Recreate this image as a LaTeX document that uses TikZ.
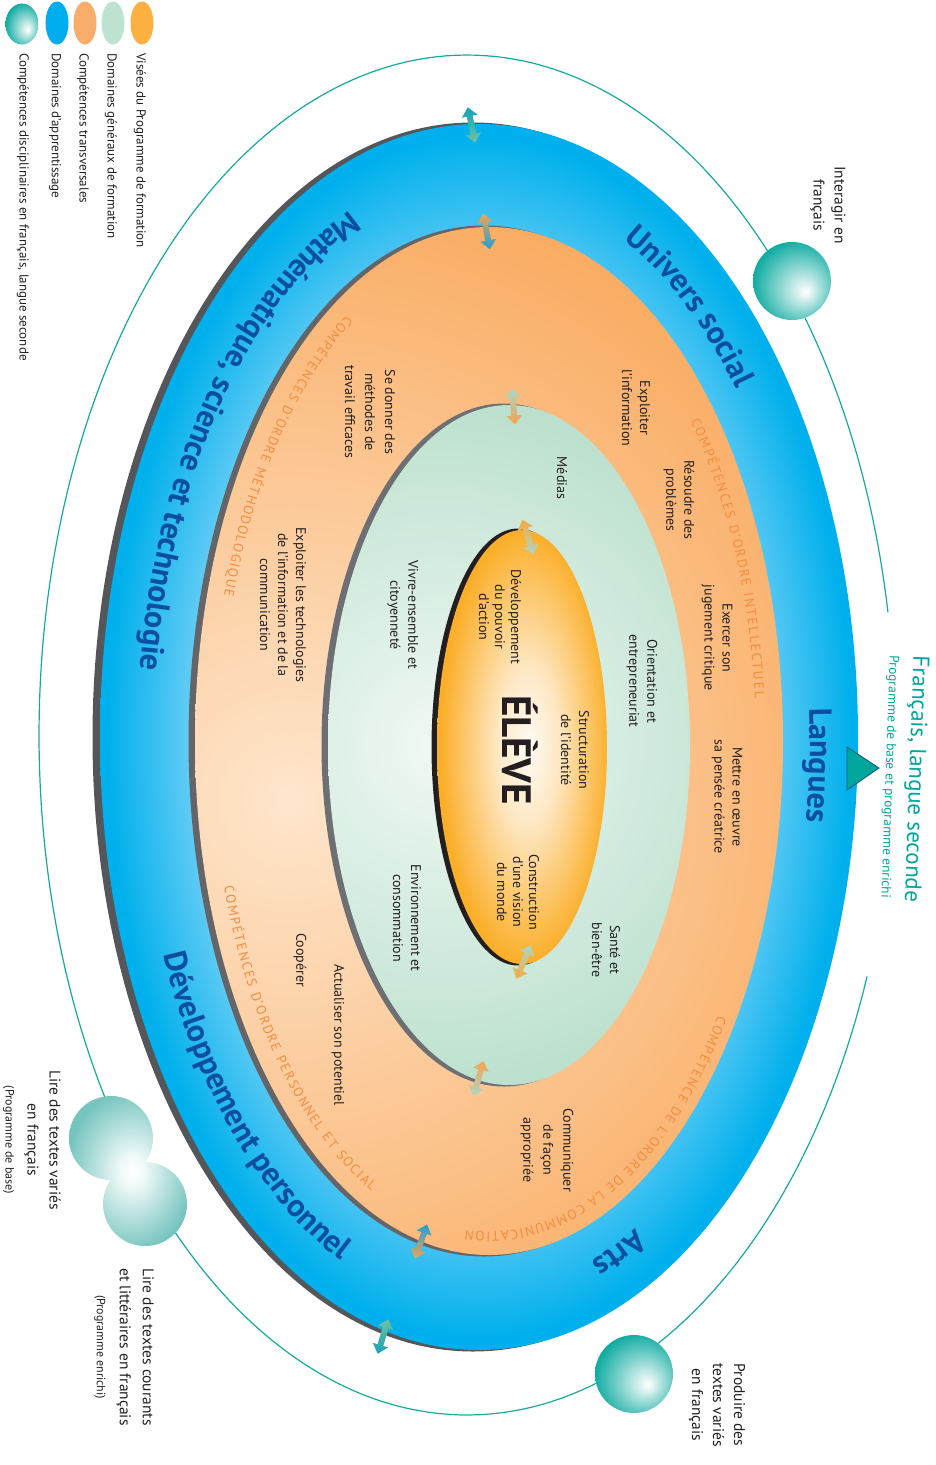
\documentclass[tikz,border=0pt]{standalone}
\usepackage{fontspec}
\setmainfont{PT Sans}
\usetikzlibrary{decorations.text,shadings}

% palette
\definecolor{ink}{RGB}{35,31,32}
\definecolor{headblue}{RGB}{12,78,160}
\definecolor{ordtxt}{RGB}{244,140,62}
\definecolor{orbitc}{RGB}{20,170,160}
\definecolor{tealtxt}{RGB}{0,166,156}
\definecolor{blueL}{RGB}{100,204,245}
\definecolor{blueD}{RGB}{0,176,236}
\definecolor{orgL}{RGB}{254,230,205}
\definecolor{orgD}{RGB}{249,164,84}
\definecolor{grnL}{RGB}{240,249,244}
\definecolor{grnD}{RGB}{183,222,202}
\definecolor{coreW}{RGB}{255,251,244}
\definecolor{coreM}{RGB}{254,232,196}
\definecolor{coreD}{RGB}{251,174,40}
\definecolor{tealD}{RGB}{0,166,156}
\definecolor{tealHi}{RGB}{225,244,242}
\definecolor{tealL}{RGB}{118,196,190}
\definecolor{tealW}{RGB}{240,250,249}
\definecolor{shadowA}{RGB}{85,86,90}
\definecolor{shadowB}{RGB}{100,101,105}
\definecolor{shadowC}{RGB}{110,111,115}
\definecolor{legYellow}{RGB}{251,176,64}
\definecolor{legMint}{RGB}{190,227,209}
\definecolor{legOrange}{RGB}{249,173,106}
\definecolor{legBlue}{RGB}{0,174,239}
\definecolor{arTeal}{RGB}{22,160,185}
\definecolor{arGreen}{RGB}{110,196,165}
\definecolor{arOrange}{RGB}{246,163,79}
\definecolor{arBlue}{RGB}{30,160,215}
\definecolor{arMint}{RGB}{170,216,200}
\definecolor{arGold}{RGB}{247,170,64}
\definecolor{triEdge}{RGB}{16,82,130}

% shadings
\pgfdeclareradialshading{bluefill}{\pgfpoint{0bp}{0bp}}{color(0bp)=(blueL); color(19bp)=(blueL); color(24.5bp)=(blueD); color(50bp)=(blueD)}
\pgfdeclareradialshading{corefill}{\pgfpoint{2bp}{0bp}}{color(0bp)=(coreW); color(9bp)=(coreM); color(25bp)=(coreD); color(50bp)=(coreD)}
\pgfdeclareradialshading{tealball}{\pgfpoint{9bp}{-7bp}}{color(0bp)=(white); color(4bp)=(tealHi); color(31bp)=(tealD); color(50bp)=(tealD)}
\pgfdeclareradialshading{tealtwin}{\pgfpoint{2bp}{0bp}}{color(0bp)=(white); color(5bp)=(tealW); color(27bp)=(tealL); color(50bp)=(tealL)}

% double-headed link arrow between two rings
\newcommand\linkarrow[4]{%
  \begin{scope}[shift={(#1)},rotate=#2]
    \shade[top color=#3,bottom color=#4]
      (0,-18) -- (8,-9) -- (3,-9) -- (3,9) -- (8,9) -- (0,18)
      -- (-8,9) -- (-3,9) -- (-3,-9) -- (-8,-9) -- cycle;
  \end{scope}}

\tikzset{
  lbl/.style={rotate=-90,align=center,text=ink,inner sep=0,font=\fontsize{14}{18}\selectfont},
  outlbl/.style={rotate=-90,align=center,text=ink,inner sep=0,font=\fontsize{15.5}{21}\selectfont},
  legendtxt/.style={rotate=-90,anchor=west,text=ink,inner sep=0,font=\fontsize{13}{15}\selectfont},
  orbitline/.style={draw=orbitc,line width=1.2pt},
  headarc/.style={decorate,decoration={text along path,text align=center,text color=headblue,
      text={|\fontsize{32}{32}\selectfont\bfseries|#1}}},
  ordarc/.style={decorate,decoration={text along path,text align={fit to path},text color=ordtxt,
      text={|\fontsize{13.5}{13.5}\selectfont|#1}}}
}

\begin{document}
\begin{tikzpicture}[x=1pt,y=-1pt]
\useasboundingbox (0,0) rectangle (936,1465);

% outer orbit of the French-language competencies
\draw[orbitline] plot[domain=20.8:349.6,samples=240,variable=\vv] ({467+428*cos(\vv)},{735+680*sin(\vv)});

% learning domains ring
\fill[shadowA] (473,737) ellipse [x radius=380.5,y radius=614.5];
\shade[shading=bluefill] (479,737) ellipse [x radius=379,y radius=613];

% cross-curricular competencies ring
\fill[shadowB] (484,741) ellipse [x radius=295.5,y radius=515.5];
\begin{scope}
  \clip (489,741) ellipse [x radius=294,y radius=514];
  \shade[inner color=orgL,outer color=orgD] (290,800) circle (700);
\end{scope}

% broad areas of learning
\fill[shadowC] (504,745) ellipse [x radius=182.5,y radius=341.5];
\begin{scope}
  \clip (509,745) ellipse [x radius=181,y radius=340];
  \shade[inner color=grnL,outer color=grnD] (440,745) circle (380);
\end{scope}

% aims of the program
\fill[ink] (518,747) ellipse [x radius=86.5,y radius=218.5];
\shade[shading=corefill] (522,747) ellipse [x radius=85,y radius=217];

% link arrows
\linkarrow{471.5,125}{11.6}{arTeal}{arGreen}
\linkarrow{486.5,231.5}{10.7}{arOrange}{arBlue}
\linkarrow{513.5,406.5}{5}{arMint}{arOrange}
\linkarrow{528,537}{18}{arGold}{arMint}
\linkarrow{523.5,962}{-23}{arMint}{arGold}
\linkarrow{478.5,1078.5}{-16}{arOrange}{arMint}
\linkarrow{421,1241.5}{-20}{arBlue}{arOrange}
\linkarrow{383,1336.5}{-17}{arGreen}{arTeal}

% domain names along the blue ring
\path[headarc={Univers social}] plot[domain=0:1,samples=100,variable=\vv] ({484+326*cos(-85+60*\vv)},{739+553*sin(-85+60*\vv)});
\path[headarc={Langues}] plot[domain=0:1,samples=100,variable=\vv] ({484+326*cos(-27+60*\vv)},{739+553*sin(-27+60*\vv)});
\path[headarc={Arts}] plot[domain=0:1,samples=100,variable=\vv] ({484+326*cos(44+50*\vv)},{739+553*sin(44+50*\vv)});
\path[headarc={Mathématique, science et technologie}] plot[domain=0:1,samples=140,variable=\vv] ({484+346*cos(253-70*\vv)},{739+573*sin(253-70*\vv)});
\path[headarc={Développement personnel}] plot[domain=0:1,samples=120,variable=\vv] ({484+346*cos(165-61*\vv)},{739+573*sin(165-61*\vv)});

% competency orders along the orange ring
\path[ordarc={COMPÉTENCES D'ORDRE INTELLECTUEL}] plot[domain=0:1,samples=100,variable=\vv] ({489+267*cos(-41+36*\vv)},{741+487*sin(-41+36*\vv)});
\path[ordarc={COMPÉTENCES D'ORDRE MÉTHODOLOGIQUE}] plot[domain=0:1,samples=100,variable=\vv] ({489+277*cos(239-42*\vv)},{741+497*sin(239-42*\vv)});
\path[ordarc={COMPÉTENCES D'ORDRE PERSONNEL ET SOCIAL}] plot[domain=0:1,samples=100,variable=\vv] ({489+277*cos(163-48*\vv)},{741+497*sin(163-48*\vv)});
\path[ordarc={COMPÉTENCE DE L'ORDRE DE LA COMMUNICATION}] plot[domain=0:1,samples=100,variable=\vv] ({489+276*cos(34+61*\vv)},{741+491*sin(34+61*\vv)});

% competencies and areas
\node[lbl] (exploiterinfo) at (636,408) {Exploiter\\l'information};
\node[lbl] (resoudre) at (679,500) {Résoudre des\\problèmes};
\node[lbl] (jugement) at (717,638) {Exercer son\\jugement critique};
\node[lbl] (creatrice) at (727,797) {Mettre en œuvre\\sa pensée créatrice};
\node[lbl] (orientation) at (642,681) {Orientation et\\entrepreneuriat};
\node[lbl] (identite) at (575,750) {Structuration\\de l'identité};
\node[rotate=-90,inner sep=0,text=ink,font=\fontsize{41}{41}\selectfont\bfseries] (eleve) at (520,750) {ÉLÈVE};
\node[lbl,font=\fontsize{14}{16}\selectfont] (pouvoir) at (500,617) {Développement\\du pouvoir\\d'action};
\node[lbl,font=\fontsize{14}{16}\selectfont] (vision) at (518,892) {Construction\\d'une vision\\du monde};
\node[lbl] (sante) at (606,950) {Santé et\\bien-être};
\node[lbl] (environnement) at (407,918) {Environnement et\\consommation};
\node[lbl] (vivre) at (403,615) {Vivre-ensemble et\\citoyenneté};
\node[lbl] (medias) at (562,478) {Médias};
\node[lbl,font=\fontsize{14}{20}\selectfont] (methodes) at (370,412) {Se donner des\\méthodes de\\travail efficaces};
\node[lbl] (tic) at (283,605) {Exploiter les technologies\\de l'information et de la\\communication};
\node[lbl] (cooperer) at (300,960) {Coopérer};
\node[lbl] (potentiel) at (338,1035) {Actualiser son potentiel};
\node[lbl,font=\fontsize{14}{20}\selectfont] (communiquer) at (547,1150) {Communiquer\\de façon\\appropriée};

% French-language competencies on the orbit
\shade[shading=tealball] (792,281) circle (39);
\shade[shading=tealball] (634,1374) circle (39);
\shade[shading=tealtwin] (111,1138) circle (42) (145,1204) circle (42);
\filldraw[fill=tealD,draw=triEdge,line width=0.8pt] (847,747) -- (879,768) -- (847,790) -- cycle;

\node[outlbl] (interagir) at (828,205) {Interagir en\\français};
\node[outlbl] (produire) at (717,1405) {Produire des\\textes variés\\en français};
\node[outlbl,font=\fontsize{15.5}{23}\selectfont] (lirecourants) at (124,1347) {Lire des textes courants\\et littéraires en français\\{\fontsize{12}{14}\selectfont(Programme enrichi)}};
\node[outlbl,font=\fontsize{15.5}{22}\selectfont] (lirevaries) at (32,1140) {Lire des textes variés\\en français\\{\fontsize{12}{14}\selectfont(Programme de base)}};
\node[rotate=-92,inner sep=0,text=tealtxt,font=\fontsize{23}{23}\selectfont] (francais) at (915,779) {Français, langue seconde};
\node[rotate=-92,inner sep=0,text=tealtxt,font=\fontsize{13.5}{14}\selectfont] (programme) at (889,777) {Programme de base et programme enrichi};

% legend
\fill[legYellow] (142,23) ellipse [x radius=11.5,y radius=21.5];
\fill[legMint] (113,23) ellipse [x radius=11.5,y radius=21.5];
\fill[legOrange] (85,23) ellipse [x radius=11.5,y radius=21.5];
\fill[legBlue] (57,23) ellipse [x radius=11.5,y radius=21.5];
\shade[shading=tealball] (22,24) ellipse [x radius=16.5,y radius=20.5];
\node[legendtxt] (legvisees) at (140,53) {Visées du Programme de formation};
\node[legendtxt] (legdgf) at (111,53) {Domaines généraux de formation};
\node[legendtxt] (legct) at (83,53) {Compétences transversales};
\node[legendtxt] (legda) at (55,53) {Domaines d'apprentissage};
\node[legendtxt] (legcd) at (23,53) {Compétences disciplinaires en français, langue seconde};
\end{tikzpicture}
\end{document}
